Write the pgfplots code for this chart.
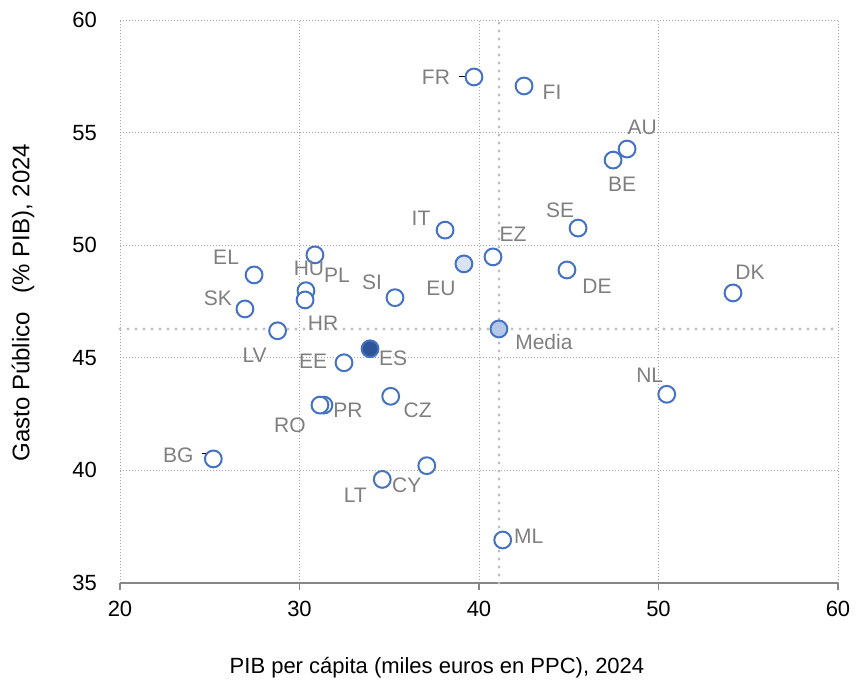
\documentclass[border=0pt]{standalone}
\usepackage{fontspec}
\setmainfont{Liberation Sans}
\usepackage{pgfplots}
\usepackage{pgfplotstable}
\pgfplotsset{compat=1.18}

\definecolor{mk}{HTML}{4472C4}
\definecolor{lbl}{HTML}{7F7F7F}
\definecolor{grd}{HTML}{A6A6A6}
\definecolor{avg}{HTML}{BFBFBF}
\definecolor{axl}{HTML}{868686}
\definecolor{esfill}{HTML}{2F5597}
\definecolor{eufill}{HTML}{DAE3F3}
\definecolor{mediafill}{HTML}{B4C7E7}

% x = PIB per capita, y = gasto publico, dx/dy = desplazamiento de la etiqueta (pt)
\pgfplotstableread{
x     y     name dx    dy
39.72 57.47 FR   -19   0
42.51 57.07 FI   14    -3
48.25 54.27 AU   7.5   11
47.47 53.78 BE   4.5   -12
45.52 50.76 SE   -9    9
38.11 50.67 IT   -12   6
40.78 49.48 EZ   10    11.5
44.90 48.90 DE   15    -8
54.15 47.88 DK   8.5   10.5
27.47 48.68 EL   -14   9
30.86 49.57 HU   -3    -6.5
30.36 47.98 PL   15.5  7.5
30.31 47.57 HR   9     -11.5
35.32 47.67 SI   -11.5 7.5
26.96 47.17 SK   -13.5 5.5
28.78 46.20 LV   -11.5 -12
32.48 44.78 EE   -15.5 0.5
35.08 43.29 CZ   13.5  -7
31.36 42.90 PR   12    -2.5
31.14 42.90 RO   -15   -10
25.20 40.51 BG   -17.5 2
34.61 39.60 LT   -13.5 -8
37.09 40.21 CY   -10   -10
41.32 36.91 ML   13    2
50.46 43.38 NL   -8.5  9.5
}\paises

\pgfplotstableread{
x     y     name dx    dy
39.16 49.17 EU   -11.5 -12
}\eu

\pgfplotstableread{
x     y     name dx    dy
33.93 45.40 ES   11.5  -4.5
}\es

\pgfplotstableread{
x     y     name  dx    dy
41.11 46.28 Media 22.5  -6.5
}\media

\pgfplotsset{
  etiqueta/.style={
    point meta=explicit symbolic,
    visualization depends on={\thisrow{dx}\as\dx},
    visualization depends on={\thisrow{dy}\as\dy},
    nodes near coords,
    nodes near coords style={font=\fontsize{10.5}{12}\selectfont, text=lbl,
      anchor=center, inner sep=0pt, xshift=\dx pt, yshift=\dy pt},
  },
  punto/.style={only marks, mark=*, mark size=4.2pt,
    mark options={draw=mk, line width=1pt, fill=#1}},
  media/.style={avg, line width=1.6pt, dash pattern=on 0pt off 4pt, line cap=round},
}

\begin{document}
\begin{tikzpicture}
\begin{axis}[
  name=ax,
  scale only axis,
  width=359pt, height=281.5pt,
  xmin=20, xmax=60, ymin=35, ymax=60,
  xtick={20,30,...,60}, ytick={35,40,...,60},
  axis x line*=bottom, axis y line*=left,
  x axis line style={axl, line width=0.9pt, -},
  y axis line style={draw=none},
  tick align=outside, major tick length=3.5pt,
  xtick style={axl, line width=0.9pt},
  ytick style={draw=none},
  grid=major,
  grid style={grd, line width=0.4pt, dash pattern=on 0.5pt off 1pt},
  tick label style={font=\fontsize{11}{13}\selectfont, text=black},
  /pgf/number format/assume math mode=true,
  xticklabel style={yshift=-2pt},
  yticklabel style={xshift=-4.5pt},
  xlabel={PIB per cápita (miles euros en PPC), 2024},
  ylabel={Gasto Público\hspace{0.8em}(\% PIB), 2024},
  xlabel style={font=\fontsize{11}{13}\selectfont, text=black,
    at={(axis description cs:0.4415,-0.151)}, anchor=center},
  ylabel style={font=\fontsize{12}{14}\selectfont, text=black,
    at={(axis description cs:-0.135,0.498)}, anchor=center},
  clip=false,
]

% lineas de la media
\addplot[media] coordinates {(20,46.28) (60,46.28)};
\addplot[media] coordinates {(41.11,35) (41.11,60)};

\addplot[punto=white, etiqueta] table[x=x, y=y, meta=name] {\paises};
\addplot[punto=eufill, etiqueta] table[x=x, y=y, meta=name] {\eu};
\addplot[punto=esfill, etiqueta] table[x=x, y=y, meta=name] {\es};
\addplot[punto=mediafill, etiqueta] table[x=x, y=y, meta=name] {\media};

% lineas guia de FR y BG
\draw[black, line width=0.5pt] ([xshift=-1pt]axis cs:39.72,57.47) -- ([xshift=-7.5pt]axis cs:39.72,57.47);
\draw[black, line width=0.5pt] ([xshift=-5.8pt,yshift=2.5pt]axis cs:25.2,40.51)
  -- ([yshift=2.5pt]axis cs:25.2,40.51) -- ([yshift=1pt]axis cs:25.2,40.51);
\end{axis}
\pgfresetboundingbox
\path ([xshift=-60pt,yshift=-51.5pt]ax.south west) rectangle ([xshift=9pt,yshift=10pt]ax.north east);
\end{tikzpicture}
\end{document}
